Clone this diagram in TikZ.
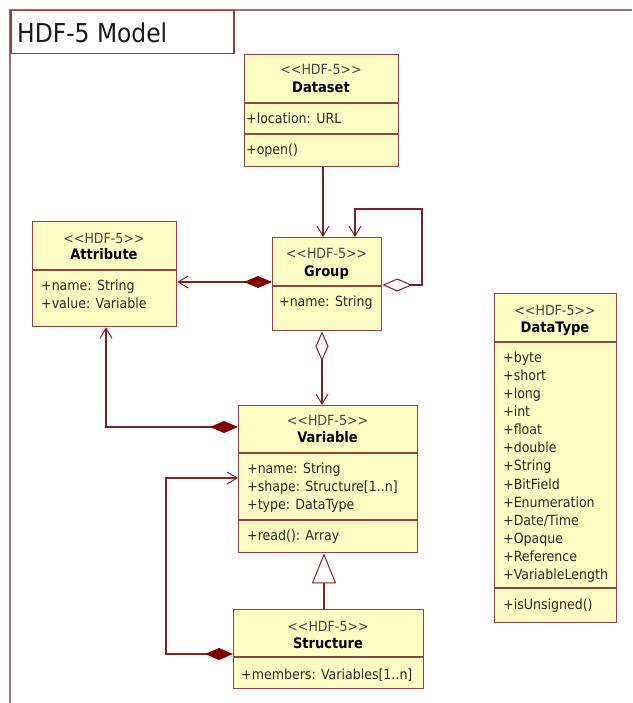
\documentclass[tikz,border=0pt]{standalone}
\usepackage{fontspec}
\setmainfont{DejaVu Sans Condensed}
\usetikzlibrary{arrows.meta,calc}
\definecolor{umlfill}{RGB}{255,253,196}
\definecolor{umlline}{RGB}{140,70,70}
\definecolor{connc}{RGB}{125,35,40}
\definecolor{diamc}{RGB}{128,0,0}
\definecolor{framec}{RGB}{150,115,115}
\definecolor{titlec}{RGB}{140,65,65}
\definecolor{txtc}{RGB}{40,40,40}
\definecolor{stereoc}{RGB}{70,70,70}
\begin{document}
\begin{tikzpicture}[x=1pt,y=-1pt,
  cls/.style={draw=umlline,fill=umlfill,line width=1.3pt,anchor=north west,inner sep=0pt},
  sttext/.style={font=\fontsize{14}{16}\selectfont,text=stereoc,inner sep=0pt,anchor=base},
  nametext/.style={font=\fontsize{14.5}{16}\selectfont\bfseries,text=black,inner sep=0pt,anchor=base},
  attr/.style={font=\fontsize{14}{18}\selectfont,text=txtc,anchor=base west,inner sep=0pt},
  divider/.style={draw=umlline,line width=1.3pt},
  connline/.style={draw=connc,line width=1.2pt},
  barb/.tip={Straight Barb[length=10pt,width=12pt,line width=1pt]},
  fdiam/.tip={Diamond[length=28pt,width=12pt,fill=diamc,color=diamc]},
  odiam/.tip={Diamond[length=30pt,width=13pt,fill=white,line width=1pt]},
  gen/.tip={Triangle[length=30pt,width=24pt,fill=white,line width=1pt]},
]
\fill[white] (0,0) rectangle (632,703);
\useasboundingbox (0,0) rectangle (632,703);

% frame
\draw[draw=framec,line width=2pt] (632,10) -- (10,10) -- (10,703);
\node[draw=titlec,line width=1.5pt,anchor=north west,minimum width=223pt,minimum height=43pt,inner sep=0pt] (titlebox) at (10,10) {};
\node[anchor=west,inner sep=0pt,font=\fontsize{26}{30}\selectfont,text=black!90] (title) at (17,33) {HDF-5 Model};

% Dataset
\node[cls,minimum width=154pt,minimum height=112pt] (dataset) at (244,54) {};
\draw[divider] (dataset.west |- 0,103) -- (dataset.east |- 0,103);
\draw[divider] (dataset.west |- 0,134) -- (dataset.east |- 0,134);
\node[sttext] (dsst) at (321,75) {<{}<HDF-5>{}>};
\node[nametext] (dsname) at (321,93) {Dataset};
\node[attr] (dsattr) at (246,124) {+location: URL};
\node[attr] (dsop) at (246,155) {+open()};

% Attribute
\node[cls,minimum width=144pt,minimum height=105pt] (attribute) at (32,221) {};
\draw[divider] (attribute.west |- 0,270) -- (attribute.east |- 0,270);
\node[sttext] (atst) at (104,243) {<{}<HDF-5>{}>};
\node[nametext] (atname) at (104,259) {Attribute};
\node[attr] (atattr1) at (41,290) {+name: String};
\node[attr] (atattr2) at (41,308) {+value: Variable};

% Group
\node[cls,minimum width=109pt,minimum height=93pt] (group) at (272,237) {};
\draw[divider] (group.west |- 0,286) -- (group.east |- 0,286);
\node[sttext] (grst) at (326.5,258) {<{}<HDF-5>{}>};
\node[nametext] (grname) at (326.5,276) {Group};
\node[attr] (grattr) at (279,306) {+name: String};

% Variable
\node[cls,minimum width=179pt,minimum height=147pt] (variable) at (238,405) {};
\draw[divider] (variable.west |- 0,453) -- (variable.east |- 0,453);
\draw[divider] (variable.west |- 0,520) -- (variable.east |- 0,520);
\node[sttext] (vast) at (327.5,425) {<{}<HDF-5>{}>};
\node[nametext] (vaname) at (327.5,442) {Variable};
\node[attr] (vaattr1) at (247,473) {+name: String};
\node[attr] (vaattr2) at (247,491) {+shape: Structure[1..n]};
\node[attr] (vaattr3) at (247,509) {+type: DataType};
\node[attr] (vaop) at (247,540) {+read(): Array};

% Structure
\node[cls,minimum width=190pt,minimum height=79pt] (structure) at (233,609) {};
\draw[divider] (structure.west |- 0,657) -- (structure.east |- 0,657);
\node[sttext] (stst) at (328,631) {<{}<HDF-5>{}>};
\node[nametext] (stname) at (328,648) {Structure};
\node[attr] (stattr) at (241,679) {+members: Variables[1..n]};

% DataType
\node[cls,minimum width=122pt,minimum height=329pt] (datatype) at (494,293) {};
\draw[divider] (datatype.west |- 0,342) -- (datatype.east |- 0,342);
\draw[divider] (datatype.west |- 0,588) -- (datatype.east |- 0,588);
\node[sttext] (dtst) at (555,315) {<{}<HDF-5>{}>};
\node[nametext] (dtname) at (555,332) {DataType};
\foreach \t [count=\i from 0] in {+byte,+short,+long,+int,+float,+double,+String,+BitField,+Enumeration,+Date/Time,+Opaque,+Reference,+VariableLength}
  \node[attr] (dtattr\i) at (503,362+18.15*\i) {\t};
\node[attr] (dtop) at (503,609) {+isUnsigned()};

% connectors
\draw[connline,-barb] (dataset.south -| 323,0) -- (group.north -| 323,0);
\draw[connline,odiam-barb] (group.east |- 0,285) -- (422,285) -- (422,209) -- (355,209) -- (group.north -| 355,0);
\draw[connline,fdiam-barb] (group.west |- 0,282) -- (attribute.east |- 0,282);
\draw[connline,odiam-barb] (group.south -| 322,0) -- (variable.north -| 322,0);
\draw[connline,fdiam-barb] (variable.west |- 0,427) -- (106,427) -- (attribute.south -| 106,0);
\draw[connline,fdiam-barb] (structure.west |- 0,654) -- (166,654) -- (166,478) -- (variable.west |- 0,478);
\draw[connline,-gen] (structure.north -| 324,0) -- (variable.south -| 324,0);
\end{tikzpicture}
\end{document}
